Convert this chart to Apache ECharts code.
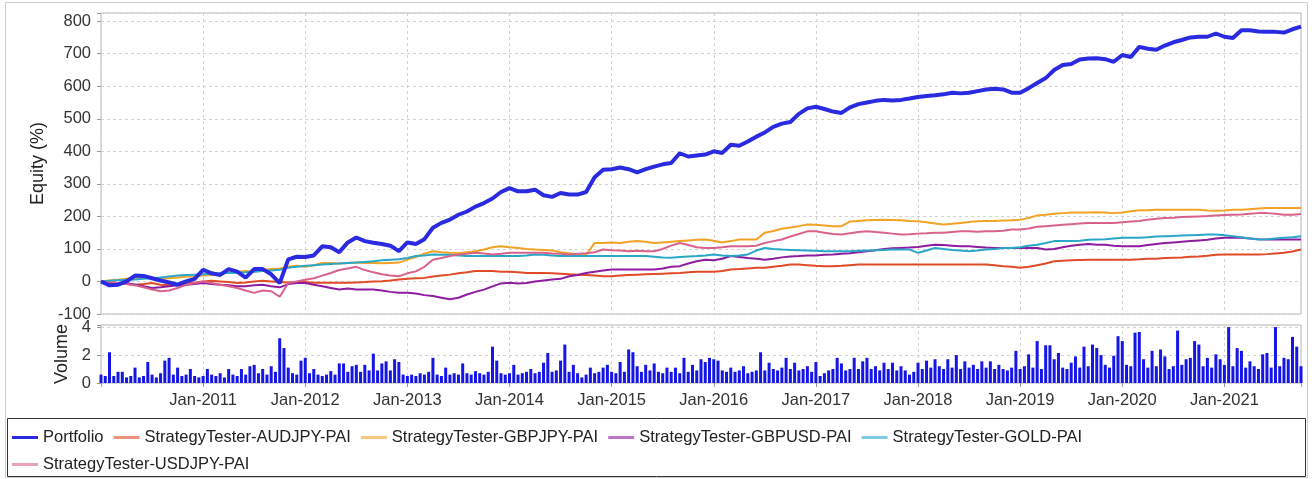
<!DOCTYPE html>
<html>
<head>
<meta charset="utf-8">
<script src="https://cdn.jsdelivr.net/npm/echarts@6/dist/echarts.min.js"></script>
<style>
  html, body { margin: 0; padding: 0; background: #fff; }
  #chart { width: 1312px; height: 479px; }
</style>
</head>
<body>
<div id="chart"></div>
<script>
// monthly equity (%) from Jan-2010, volume every half month
var startYear = 2010;
var seriesNames = [
  "Portfolio",
  "StrategyTester-AUDJPY-PAI",
  "StrategyTester-GBPJPY-PAI",
  "StrategyTester-GBPUSD-PAI",
  "StrategyTester-GOLD-PAI",
  "StrategyTester-USDJPY-PAI"
];
var colors = ["#2a2ae0", "#e04a26", "#f2a224", "#8e1c9e", "#2aa6c8", "#d8628c"];

var portfolio = [
  0, -12, -10, 0, 18, 17, 10, 3, -3, -10, 0, 8,
  36, 25, 20, 38, 30, 12, 38, 38, 22, -5, 68, 76,
  75, 80, 108, 105, 90, 120, 135, 124, 119, 115, 110, 93,
  120, 115, 130, 165, 180, 190, 205, 215, 230, 241, 255, 275,
  287, 277, 277, 282, 265, 260, 272, 267, 267, 275, 320, 343,
  345, 350, 345, 335, 345, 353, 360, 364, 394, 384, 387, 390,
  400, 395, 420, 417, 430, 445, 458, 475, 485, 490, 515, 532,
  537, 530, 522, 518, 535, 545, 550, 555, 558, 556, 558, 562,
  567, 570, 572, 575, 580, 578, 580, 585, 590, 592, 590, 580,
  580, 594, 610, 625, 650, 665, 668, 682, 685, 686, 683, 675,
  696, 690, 721, 715, 712, 725, 735, 742, 750, 752, 752, 762,
  752, 748, 772, 772, 768, 767, 767, 765, 775, 783
];
var audjpy = [
  0, -2, -5, -8, -10, -8, -5, -10, -12, -8, -5, -3,
  0, 2, 0, -2, -5, -3, 0, 2, 0, -2, -3, -2,
  -2, -4, -4, -4, -4, -4, -3, -2, 0, 1, 3, 6,
  8, 10, 11, 15, 18, 21, 25, 28, 32, 32, 32, 30,
  30, 28, 26, 26, 26, 25, 24, 22, 21, 20, 18, 16,
  16, 18, 20, 21, 22, 23, 24, 25, 26, 28, 30, 30,
  30, 32, 37, 38, 40, 42, 42, 45, 48, 52, 52, 50,
  48, 47, 47, 48, 50, 52, 52, 52, 52, 52, 52, 52,
  52, 52, 52, 52, 52, 52, 52, 52, 52, 50, 47, 45,
  42, 45, 50, 55, 62, 64, 65, 66, 67, 67, 67, 67,
  67, 67, 68, 70, 70, 72, 73, 74, 76, 77, 79, 82,
  83, 83, 83, 83, 83, 84, 86, 88, 92, 98
];
var gbpjpy = [
  0, 3, 5, 8, 10, 12, 10, 8, 10, 12, 15, 15,
  18, 20, 22, 28, 30, 32, 30, 35, 38, 40, 45, 48,
  45, 50, 57, 57, 55, 57, 58, 57, 57, 56, 57, 58,
  67, 75, 85, 93, 90, 88, 87, 90, 93, 98, 105, 108,
  105, 103, 100, 98, 97, 95, 90, 87, 84, 82, 118, 118,
  120, 118, 122, 124, 122, 118, 120, 122, 124, 126, 128, 129,
  125, 120, 124, 129, 129, 129, 150, 155, 162, 166, 170, 175,
  174, 172, 170, 170, 184, 186, 188, 189, 190, 189, 188, 186,
  185, 182, 178, 175, 177, 180, 183, 185, 186, 186, 187, 188,
  190, 195, 203, 205, 208, 210, 212, 212, 212, 213, 212, 210,
  212, 216, 219, 219, 220, 220, 220, 220, 220, 220, 218, 217,
  218, 220, 220, 222, 224, 226, 226, 226, 226, 226
];
var gbpusd = [
  0, -5, -8, -5, -10, -15, -20, -18, -15, -12, -10, -8,
  -5, -8, -10, -12, -15, -15, -12, -10, -15, -18, -8, -5,
  -5, -10, -15, -20, -25, -22, -25, -25, -25, -28, -32, -35,
  -35, -37, -42, -45, -50, -55, -50, -40, -32, -25, -15, -6,
  -4, -6, -5, 0, 3, 6, 8, 16, 20, 26, 30, 34,
  37, 37, 37, 37, 37, 37, 40, 45, 47, 55, 62, 67,
  65, 70, 78, 75, 72, 70, 67, 70, 74, 77, 78, 80,
  80, 82, 83, 85, 87, 90, 93, 96, 100, 102, 103, 104,
  106, 110, 113, 112, 110, 108, 108, 106, 104, 103, 103, 103,
  103, 103, 103, 98, 100, 105, 110, 113, 115, 113, 113, 110,
  108, 108, 108, 112, 115, 118, 120, 122, 124, 126, 128, 132,
  134, 134, 134, 132, 130, 129, 129, 129, 129, 129
];
var gold = [
  0, 2, 4, 5, 6, 8, 10, 12, 15, 18, 20, 21,
  22, 24, 25, 26, 27, 28, 30, 32, 34, 36, 42, 45,
  48, 50, 52, 54, 55, 57, 58, 60, 62, 65, 67, 68,
  72, 78, 80, 83, 82, 82, 80, 78, 78, 78, 78, 78,
  78, 78, 80, 83, 82, 80, 78, 78, 78, 78, 78, 78,
  78, 78, 78, 78, 78, 76, 74, 73, 75, 77, 78, 80,
  83, 80, 78, 80, 83, 95, 103, 100, 98, 97, 96, 95,
  94, 93, 93, 93, 93, 94, 95, 96, 97, 98, 98, 98,
  88, 95, 103, 100, 97, 95, 93, 95, 98, 100, 103, 103,
  105, 110, 113, 118, 124, 124, 124, 125, 128, 129, 130, 132,
  134, 134, 134, 136, 138, 139, 140, 141, 142, 143, 144, 144,
  142, 139, 136, 132, 129, 130, 132, 134, 136, 139
];
var usdjpy = [
  0, -3, -5, -8, -12, -18, -25, -30, -28, -20, -10, -5,
  0, -5, -10, -15, -20, -28, -35, -28, -30, -47, -5, 0,
  5, 10, 18, 26, 35, 40, 45, 35, 28, 22, 18, 16,
  25, 31, 45, 67, 72, 78, 83, 85, 88, 86, 83, 85,
  88, 88, 88, 88, 88, 86, 85, 83, 85, 87, 90, 98,
  96, 95, 93, 94, 93, 93, 100, 110, 118, 112, 105, 103,
  103, 105, 108, 108, 108, 110, 118, 124, 129, 138, 146, 154,
  154, 150, 146, 144, 148, 152, 154, 152, 150, 147, 144, 145,
  147, 148, 150, 150, 152, 154, 154, 153, 154, 154, 156, 160,
  160, 163, 168, 170, 172, 174, 176, 178, 180, 180, 180, 180,
  182, 184, 186, 190, 193, 195, 196, 198, 199, 200, 201, 203,
  204, 205, 206, 208, 210, 210, 208, 205, 205, 207
];

var volume2010 = [0.6, 0.5, 2.2, 0.5, 0.8, 0.8, 0.4, 0.5, 1.1, 0.4, 0.5, 1.5, 0.6, 0.4, 0.7, 1.6, 1.8, 0.6, 1.1, 0.5, 0.6, 1.0, 0.5, 0.4];
var volume2011 = [0.5, 1.0, 0.6, 0.5, 0.7, 0.4, 1.0, 0.6, 0.5, 1.0, 0.6, 1.2, 1.3, 0.7, 1.0, 0.6, 1.2, 0.8, 3.2, 2.5, 1.1, 0.7, 0.6, 1.6];
var volume2012 = [1.8, 0.7, 1.0, 0.6, 0.5, 0.6, 0.85, 0.6, 1.4, 1.4, 0.8, 1.2, 1.3, 0.8, 1.3, 0.9, 2.1, 0.9, 1.4, 1.55, 0.9, 1.7, 1.5, 0.6];
var volume2013 = [0.5, 0.6, 0.5, 0.7, 0.6, 0.8, 1.8, 0.6, 0.5, 1.1, 0.6, 0.7, 0.6, 1.4, 0.7, 0.6, 0.85, 0.7, 0.6, 0.8, 2.6, 1.6, 0.7, 0.6];
var volume2014 = [0.7, 1.3, 0.6, 0.7, 0.8, 1.0, 0.7, 0.8, 1.45, 2.15, 0.8, 0.9, 1.6, 2.75, 0.8, 1.3, 0.7, 0.4, 0.6, 1.1, 0.7, 0.8, 1.1, 1.3];
var volume2015 = [0.8, 0.7, 1.5, 0.8, 2.4, 2.2, 1.2, 0.8, 1.3, 0.9, 1.4, 0.8, 0.7, 1.1, 0.8, 1.1, 0.7, 1.8, 0.8, 1.3, 0.9, 1.7, 1.5, 1.8];
var volume2016 = [1.7, 1.6, 0.9, 0.8, 1.1, 0.8, 0.9, 1.2, 0.7, 0.8, 0.9, 2.2, 0.9, 1.45, 1.0, 0.9, 1.1, 1.8, 1.0, 1.45, 0.9, 1.0, 1.2, 0.8];
var volume2017 = [1.5, 0.5, 0.7, 0.9, 1.0, 1.8, 1.4, 0.9, 1.0, 1.8, 1.0, 1.55, 1.8, 1.0, 1.2, 0.9, 1.45, 1.0, 1.45, 0.9, 1.2, 0.9, 0.6, 0.8];
var volume2018 = [1.45, 1.0, 1.6, 1.1, 1.7, 1.2, 1.0, 1.7, 1.1, 2.0, 1.0, 1.55, 1.1, 1.3, 1.0, 1.55, 1.1, 1.55, 1.0, 1.3, 1.0, 0.9, 1.1, 2.3];
var volume2019 = [1.0, 1.2, 2.05, 1.1, 3.0, 1.0, 2.7, 2.7, 1.7, 2.15, 1.1, 1.0, 1.45, 1.9, 1.1, 2.6, 1.2, 2.75, 2.5, 2.0, 1.3, 1.1, 1.95, 3.35];
var volume2020 = [3.0, 1.3, 1.2, 3.6, 3.65, 1.7, 1.1, 2.3, 1.2, 2.4, 1.9, 1.0, 1.2, 3.75, 1.3, 1.7, 1.8, 3.0, 2.75, 1.2, 1.8, 1.1, 2.05, 1.7];
var volume2021 = [1.3, 4.0, 1.2, 2.5, 2.3, 1.1, 1.55, 1.2, 1.0, 2.05, 2.15, 1.1, 4.0, 1.2, 1.8, 1.7, 3.3, 2.6, 1.2];

var xMin = 2010, xMax = 2021.75;

function toPoints(values, perYear) {
  return values.map(function (v, i) {
    return [startYear + i / perYear, v];
  });
}

var equity = [portfolio, audjpy, gbpjpy, gbpusd, gold, usdjpy];
var volume = [].concat(volume2010, volume2011, volume2012, volume2013, volume2014, volume2015,
  volume2016, volume2017, volume2018, volume2019, volume2020, volume2021);

var font = "Liberation Sans, Arial, sans-serif";
var dashed = { color: "#d2d2d2", type: [3, 3], width: 1 };

var series = equity.map(function (vals, i) {
  return {
    name: seriesNames[i],
    type: "line",
    xAxisIndex: 0,
    yAxisIndex: 0,
    data: toPoints(vals, 12),
    symbol: "none",
    z: i === 0 ? 5 : 3,
    lineStyle: { color: colors[i], width: i === 0 ? 4 : 2 },
    itemStyle: { color: colors[i] }
  };
});
series.push({
  name: "Volume",
  type: "bar",
  xAxisIndex: 1,
  yAxisIndex: 1,
  data: toPoints(volume, 24),
  barWidth: 3,
  itemStyle: { color: "#1515e8" }
});

var legendData = seriesNames.map(function (name, i) {
  return { name: name, icon: "rect", itemStyle: { opacity: i === 0 ? 1 : 0.6 } };
});

var chart = echarts.init(document.getElementById("chart"));
var option = {
  animation: false,
  backgroundColor: "#fff",
  color: colors,
  graphic: [
    { type: "rect", shape: { x: 5.5, y: 2.5, width: 1302, height: 475 }, style: { fill: "none", stroke: "#cfcfcf", lineWidth: 1 }, z: -1 },
    { type: "rect", shape: { x: 7.5, y: 418.5, width: 1298, height: 58 }, style: { fill: "#fff", stroke: "#333", lineWidth: 1 }, z: -1 }
  ],
  legend: {
    data: legendData,
    left: 7,
    top: 424,
    width: 1285,
    itemGap: 10,
    itemWidth: 26,
    itemHeight: 3,
    textStyle: { fontFamily: font, fontSize: 16.5, lineHeight: 13, color: "#222" }
  },
  grid: [
    { left: 101, right: 11, top: 13, height: 301, show: true, borderColor: "#b8b8b8", backgroundColor: "#fff" },
    { left: 101, right: 11, top: 325, height: 58, show: true, borderColor: "#b8b8b8", backgroundColor: "#fff" }
  ],
  xAxis: [
    {
      type: "value", gridIndex: 0, min: xMin, max: xMax, interval: 1,
      axisLine: { show: false }, axisTick: { show: false }, axisLabel: { show: false },
      splitLine: { show: true, lineStyle: dashed }
    },
    {
      type: "value", gridIndex: 1, min: xMin, max: xMax, interval: 1,
      axisLine: { show: false },
      axisTick: { show: true, length: 4, lineStyle: { color: "#999" } },
      axisLabel: {
        margin: 9, fontFamily: font, fontSize: 16.5, color: "#333",
        formatter: function (v) { return (v > xMin && v % 1 === 0) ? "Jan-" + v : ""; }
      },
      splitLine: { show: true, lineStyle: dashed }
    }
  ],
  yAxis: [
    {
      type: "value", gridIndex: 0, min: -100, max: 825, interval: 100,
      name: "Equity (%)", nameLocation: "middle", nameGap: 54,
      nameTextStyle: { fontFamily: font, fontSize: 18, color: "#222" },
      axisLine: { show: false },
      axisTick: { show: true, length: 4, lineStyle: { color: "#999" } },
      axisLabel: {
        margin: 10, fontFamily: font, fontSize: 16.5, color: "#333",
        formatter: function (v) { return v % 100 === 0 ? v : ""; }
      },
      splitLine: { show: true, lineStyle: dashed }
    },
    {
      type: "value", gridIndex: 1, min: 0, max: 4.15, interval: 2,
      name: "Volume", nameLocation: "middle", nameGap: 30,
      nameTextStyle: { fontFamily: font, fontSize: 18, color: "#222" },
      axisLine: { show: false },
      axisTick: { show: true, length: 4, lineStyle: { color: "#999" } },
      axisLabel: {
        margin: 10, fontFamily: font, fontSize: 16.5, color: "#333",
        formatter: function (v) { return v % 2 === 0 ? v : ""; }
      },
      splitLine: { show: true, lineStyle: dashed }
    }
  ],
  series: series
};
chart.setOption(option);
</script>
</body>
</html>
